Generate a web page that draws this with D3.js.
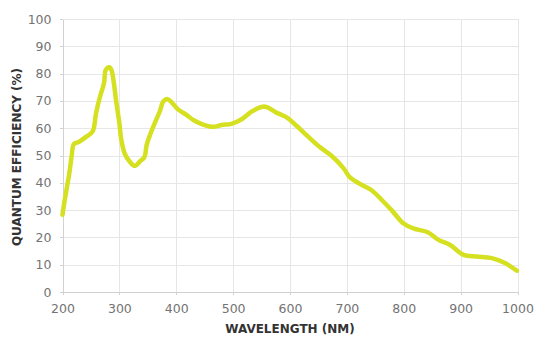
<!DOCTYPE html>
<meta charset="utf-8">
<head>
    <style>
        body { margin: 0; background: #fff; }
        .grid line { stroke: #e6e6e6; stroke-width: 1; shape-rendering: crispEdges; }
        .grid path { stroke-width: 0; }
        .axis path, .axis line { stroke: #d2d2d2; shape-rendering: crispEdges; }
        .axis text { font: 12.5px "DejaVu Sans", sans-serif; fill: #737373; }
        .title { font: bold 12px "DejaVu Sans", sans-serif; fill: #333; }
    </style>
</head>
<body>
<script src="https://d3js.org/d3.v7.min.js"></script>
<div id="chart"></div>
<script>
    // wavelength (nm) and quantum efficiency (%)
    var wavelength = [200, 204, 208, 212, 216, 220, 228, 242, 253, 259, 266, 273, 276, 282, 286, 290,
        294, 300, 303, 309, 318, 327, 336, 344, 348, 354, 362, 371, 377, 384, 391, 403, 418, 430,
        445, 465, 480, 497, 515, 535, 556, 576, 594, 612, 632, 653, 673, 694, 705, 723, 744, 761,
        779, 799, 817, 843, 861, 881, 905, 928, 955, 978, 999];
    var qe = [28.3, 33.8, 38.6, 43.5, 49.6, 54.2, 54.9, 56.9, 58.8, 65.5, 71.6, 76.5, 81.3, 82.3, 81.3, 77,
        70.4, 61.8, 56.3, 50.9, 47.8, 46.2, 47.8, 49.4, 53.9, 57.6, 61.8, 66.1, 69.7, 70.7, 69.7, 66.9, 64.9, 63,
        61.5, 60.5, 61.2, 61.6, 63.3, 66.4, 67.9, 65.7, 64, 60.8, 56.9, 53, 49.9, 45.4, 42.1, 39.6, 37.2, 33.8,
        29.9, 25.2, 23.3, 21.8, 19.1, 17.3, 13.6, 13, 12.4, 10.6, 7.8];
    var xTicks = [200, 300, 400, 500, 600, 700, 800, 900, 1000];
    var yTicks = [0, 10, 20, 30, 40, 50, 60, 70, 80, 90, 100];

    var margin = { top: 19, right: 20, bottom: 47, left: 62.5 },
        width = 455,
        height = 273;

    var svg = d3.select("#chart").append("svg")
        .attr("width", 538)
        .attr("height", 339)
        .append("g")
        .attr("transform", "translate(" + margin.left + "," + margin.top + ")");

    var x = d3.scaleLinear().domain([200, 1000]).range([0, width]);
    var y = d3.scaleLinear().domain([0, 100]).range([height, 0]);

    // grid
    svg.append("g")
        .attr("class", "grid")
        .attr("transform", "translate(0," + height + ")")
        .call(d3.axisBottom(x).tickValues(xTicks).tickSize(-height).tickFormat(""));
    svg.append("g")
        .attr("class", "grid")
        .call(d3.axisLeft(y).tickValues(yTicks).tickSize(-width).tickFormat(""));

    // axes
    svg.append("g")
        .attr("class", "axis")
        .attr("transform", "translate(0," + height + ")")
        .call(d3.axisBottom(x).tickValues(xTicks).tickFormat(d3.format("d"))
            .tickSize(3).tickPadding(9).tickSizeOuter(0));
    svg.append("g")
        .attr("class", "axis")
        .call(d3.axisLeft(y).tickValues(yTicks).tickSize(3).tickPadding(8).tickSizeOuter(0));

    // titles
    svg.append("text")
        .attr("class", "title")
        .attr("text-anchor", "middle")
        .attr("x", width / 2)
        .attr("y", 314)
        .text("WAVELENGTH (NM)");
    svg.append("text")
        .attr("class", "title")
        .attr("text-anchor", "middle")
        .attr("transform", "translate(" + (21 - margin.left) + "," + (157 - margin.top) + ") rotate(-90)")
        .text("QUANTUM EFFICIENCY (%)");

    // curve
    var pts = wavelength.map(function (w, i) { return [w, qe[i]]; });
    svg.append("path")
        .datum(pts)
        .attr("fill", "none")
        .attr("stroke", "#d5e020")
        .attr("stroke-width", 4.5)
        .attr("stroke-linecap", "round")
        .attr("stroke-linejoin", "round")
        .attr("d", d3.line()
            .curve(d3.curveCatmullRom.alpha(0.5))
            .x(function (d) { return x(d[0]); })
            .y(function (d) { return y(d[1]); }));
</script>
</body>
